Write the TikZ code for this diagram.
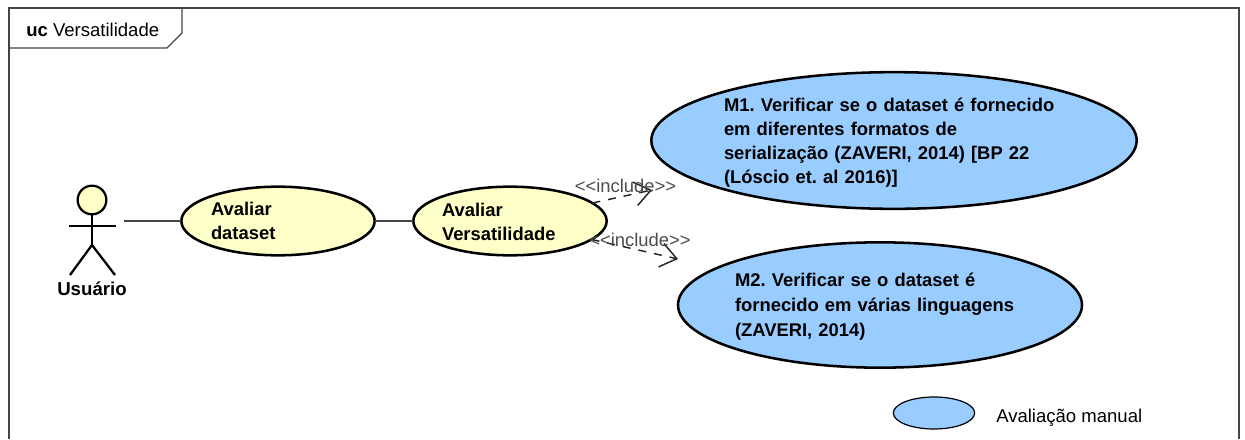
\documentclass[tikz,border=0pt]{standalone}
\usepackage{fontspec}
\setmainfont{Liberation Sans}
\usepackage{tikz}
\usetikzlibrary{arrows.meta,calc,shapes.geometric}
\definecolor{usecase}{HTML}{FFFFC8}
\definecolor{manual}{HTML}{99CCFF}
\definecolor{frameline}{HTML}{444444}
\newcommand{\topgap}[1]{\rule{0pt}{#1}}
\tikzset{
  usecase/.style={ellipse,draw=black,line width=1.9pt,fill=usecase,inner sep=0pt,outer sep=0pt,align=left,font=\fontsize{13.8}{18}\bfseries\selectfont\frenchspacing},
  manualcase/.style={usecase,fill=manual},
  includearrow/.style={dash pattern=on 6pt off 6pt,draw=black!85,line width=1.1pt,-{Straight Barb[length=12pt,width=18pt]}},
  includelabel/.style={text=black!70,inner sep=0pt,font=\fontsize{13.8}{16}\selectfont},
  plainlabel/.style={inner sep=0pt,font=\fontsize{13.9}{16}\selectfont},
  actorline/.style={draw=black,line width=1.7pt}
}
\begin{document}
\begin{tikzpicture}[x=0.75pt,y=-0.75pt]
\useasboundingbox (0,0) rectangle (1245,439);

\draw[frameline,line width=0.9pt] (9,439) -- (9,8) -- (1239,8) -- (1239,439);
\draw[frameline,line width=0.9pt] (9,48) -- (167,48) -- (182,33) -- (182,8);
\node[plainlabel,anchor=west] (title) at (26,30) {\textbf{uc} Versatilidade};

\node[circle,minimum size=21.5pt,inner sep=0pt,outer sep=0pt,fill=usecase,actorline] (head) at (92,200) {};
\coordinate (hip) at (92,245);
\coordinate (armL) at (69,226);
\coordinate (armR) at (116,226);
\coordinate (footL) at (70,275);
\coordinate (footR) at (115,275);
\coordinate (side) at (124,221);
\path[actorline] (head) edge (hip) (armL) edge (armR) (hip) edge (footL) (hip) edge (footR);
\node[plainlabel,font=\fontsize{14}{16}\bfseries\selectfont] (user) at (92,289) {Usuário};

\node[usecase,minimum width=145pt,minimum height=51.5pt,text width=100.5pt] (avaliar) at (278,221) {Avaliar\\dataset};
\node[usecase,minimum width=145pt,minimum height=51.5pt,text width=102pt] (versat) at (510,221) {\topgap{11.5pt}Avaliar\\Versatilidade};

\node[manualcase,minimum width=364pt,minimum height=102.5pt,text width=255pt] (m1) at (894,140.5) {\topgap{13pt}M1. Verificar se o dataset é fornecido\\em diferentes formatos de\\serialização (ZAVERI, 2014) [BP 22\\(Lóscio et. al 2016)]};
\node[manualcase,minimum width=303pt,minimum height=94pt,text width=217.5pt,inner xsep=-3pt,font=\fontsize{13.8}{18.75}\bfseries\selectfont\frenchspacing] (m2) at (880,305) {\topgap{12pt}M2. Verificar se o dataset é\\fornecido em várias linguagens\\(ZAVERI, 2014)};

\coordinate (tip1) at (652,190);
\coordinate (tip2) at (678,259);

\draw[frameline,line width=1.1pt] (side) -- (avaliar);
\draw[frameline,line width=1.1pt] (avaliar) -- (versat);
\path[includearrow] (versat) edge (tip1) (versat) edge (tip2);
\node[includelabel] (inc1) at (625.5,186) {<{}<include>{}>};
\node[includelabel] (inc2) at (640,240) {<{}<include>{}>};

\node[ellipse,draw=black,line width=0.9pt,fill=manual,minimum width=61pt,minimum height=24pt,inner sep=0pt] (legend) at (934,413) {};
\node[plainlabel,anchor=west] (legendtext) at (996,418) {Avaliação manual};
\end{tikzpicture}
\end{document}
